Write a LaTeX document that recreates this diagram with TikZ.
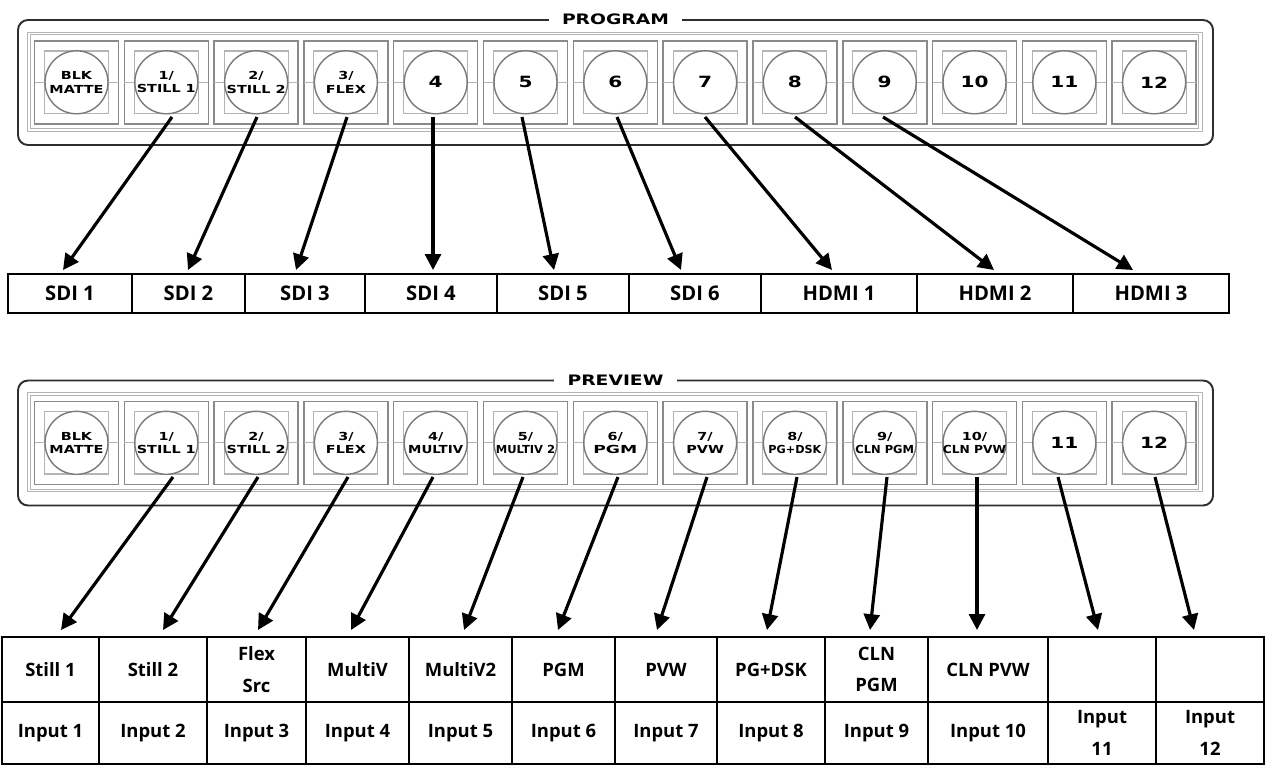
\documentclass[tikz,border=0pt]{standalone}
\usepackage{fontspec}
\usepackage{graphicx}
\setmainfont{Open Sans}
\newfontfamily\btnfont{DejaVu Sans}[FakeStretch=1.3]
\usetikzlibrary{arrows.meta}
\definecolor{cellgray}{HTML}{8A8A8A}
\definecolor{ingray}{HTML}{B4B4B4}
\definecolor{circgray}{HTML}{7A7A7A}
\definecolor{framecol}{HTML}{2E2E2E}
\newcommand\bigsz{\fontsize{8.8}{10}\selectfont}
\newcommand\hs[2]{\scalebox{#1}[1]{#2}}
\tikzset{
 panelframe/.style={draw=framecol, line width=1.1pt, rounded corners=0.2cm},
 innerline/.style={draw=ingray, line width=0.5pt},
 cellbox/.style={draw=cellgray, line width=0.9pt},
 insq/.style={draw=ingray, line width=0.6pt},
 btnc/.style={circle, draw=circgray, line width=0.8pt, fill=white, minimum size=1.26cm, inner sep=0pt},
 btxt/.style={inner sep=0pt, align=center, font=\btnfont\bfseries\fontsize{6.3}{7.6}\selectfont},
 ttl/.style={fill=white, inner xsep=7.5pt, inner ysep=1pt, font=\btnfont\bfseries\fontsize{8.2}{9}\selectfont},
 tcell/.style={draw=black, line width=1.1pt, inner sep=0pt, align=center, font=\bfseries\fontsize{11.5}{14.8}\selectfont},
 bcell/.style={tcell, font=\bfseries\fontsize{10.5}{18}\selectfont},
 arr/.style={draw=black, line width=1.8pt, -{Triangle[length=9pt,width=9pt]}},
}
\newcommand\drawpanel[4]{%
\begin{scope}[shift={(0,#1)}]
 \draw[panelframe] (18,20) rectangle (1213,145);
 \draw[innerline] (27,32) rectangle (1202,131);
 \draw[innerline] (30.5,34.5) rectangle (1198.5,128.5);
 \node[ttl] (#3t) at (615.5,19.5) {#2};
 \foreach \lab [count=\i from 0] in {#4} {
   \pgfmathsetmacro\cx{76.5+89.8*\i}
   \draw[cellbox] (\cx-42,41) rectangle (\cx+42,124);
   \draw[insq] (\cx-32,51) rectangle (\cx+32,113.5);
   \draw[insq] (\cx-42,82.3) -- (\cx+42,82.3);
   \node[btnc] (#3\i) at (\cx,82.3) {};
   \node[btxt] (#3x\i) at (#3\i.center) {\lab};
 }
\end{scope}}
\begin{document}
\begin{tikzpicture}[x=0.02cm,y=-0.02cm]
\useasboundingbox (0,0) rectangle (1266,765);
\fill[white] (0,0) rectangle (1266,765);

\drawpanel{0}{PROGRAM}{p}{{BLK\\MATTE},{1/\\STILL 1},{2/\\STILL 2},{3/\\FLEX},{\bigsz 4},{\bigsz 5},{\bigsz 6},{\bigsz 7},{\bigsz 8},{\bigsz 9},{\bigsz 10},{\bigsz 11},{\bigsz 12}}
\drawpanel{360.5}{PREVIEW}{v}{{BLK\\MATTE},{1/\\STILL 1},{2/\\STILL 2},{3/\\FLEX},{4/\\\hs{0.93}{MULTIV}},{5/\\\hs{0.8}{MULTIV 2}},{6/\\\hs{1.2}{PGM}},{7/\\PVW},{8/\\\hs{0.78}{PG+DSK}},{9/\\\hs{0.8}{CLN PGM}},{10/\\\hs{0.85}{CLN PVW}},{\bigsz 11},{\bigsz 12}}

% SDI table
\foreach \a/\b/\t [count=\i] in {8/132/SDI 1,132/245/SDI 2,245/365/SDI 3,365/497/SDI 4,497/629/SDI 5,629/761/SDI 6,761/917/HDMI 1,917/1073/HDMI 2,1073/1229/HDMI 3}
  \node[tcell, minimum width={(\b-\a)*0.02cm}, minimum height={39*0.02cm}] (s\i) at ({(\a+\b)/2},293.5) {\t};

% preview table
\foreach \a/\b/\t/\u [count=\i] in {2/99/{Still 1}/{Input 1},99/207/{Still 2}/{Input 2},207/306/{Flex\\Src}/{Input 3},306/409/{MultiV}/{Input 4},409/512/{MultiV2}/{Input 5},512/615/{PGM}/{Input 6},615/717/{PVW}/{Input 7},717/825/{PG+DSK}/{Input 8},825/928/{CLN\\PGM}/{Input 9},928/1048/{CLN PVW}/{Input 10},1048/1156/{}/{Input\\11},1156/1264/{}/{Input\\12}}
{
  \node[bcell, minimum width={(\b-\a)*0.02cm}, minimum height={65*0.02cm}] (r\i) at ({(\a+\b)/2},669.5) {\t};
  \node[bcell, minimum width={(\b-\a)*0.02cm}, minimum height={62*0.02cm}] (q\i) at ({(\a+\b)/2},733) {\u};
}

% program arrows
\foreach \sx/\ex [count=\i] in {172/63,257/188,347/296,433/433,522/554,617/681,705/832,795/994,883/1133}{
  \coordinate (ps\i) at (\sx,117);
  \coordinate (pe\i) at (\ex,270);
  \draw[arr] (ps\i) -- (pe\i);
}
% preview arrows
\foreach \sx/\ex [count=\i] in {173/61,258/163,348/258,433/351,523/464,618/558,707/657,797/767,887/870,977/977,1058/1098,1155/1194}{
  \coordinate (vs\i) at (\sx,477);
  \coordinate (ve\i) at (\ex,630);
  \draw[arr] (vs\i) -- (ve\i);
}
\end{tikzpicture}
\end{document}
